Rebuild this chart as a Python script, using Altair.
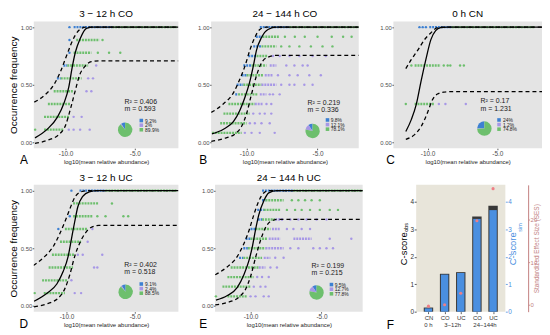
import altair as alt
import pandas as pd

FONT = "Liberation Sans"
BLUE, PURPLE, GREEN = "#3D80D2", "#A797E6", "#6DBF6D"
CATS = ["b", "p", "g"]
PANEL_BG = "#E4E4E4"
F_BG = "#E8E5DA"
BAR_DARK = "#383838"
BAR_BLUE = "#4A8FE0"
SES_COL = "#C27F7F"
PINK = "#EE7F86"

# ---------------- Panel A : 3-12 h CO ----------------
A_title = "3 − 12 h  CO"
A_xdom = [-12.3, -1.85]
A_band_y = [1.0, 1.0, 0.889, 0.778, 0.667, 0.667, 0.556, 0.556, 0.444, 0.333, 0.222, 0.111]
A_band_x0 = [-9.42, -6.63, -9.23, -9.42, -10.16, -9.88, -10.63, -10.35, -10.86, -11.28, -11.56, -11.56]
A_band_x1 = [-6.63, -1.98, -7.56, -8.14, -9.88, -8.37, -10.35, -8.84, -9.42, -9.65, -9.70, -10.12]
A_band_c = ["b", "g", "g", "g", "b", "g", "b", "g", "g", "g", "g", "g"]
A_pt_x = [-9.72, -9.72, -7.33, -9.72, -7.67, -6.86, -6.05, -7.79, -8.37, -8.02, -8.49, -8.14,
          -9.42, -8.84, -12.2, -9.77, -9.42, -8.95, -8.26]
A_pt_y = [1.0, 0.889, 0.889, 0.778, 0.778, 0.778, 0.778, 0.667, 0.556, 0.556, 0.444, 0.444,
          0.222, 0.222, 0.111, 0.111, 0.111, 0.111, 0.111]
A_pt_c = ["b", "b", "g", "b", "g", "g", "g", "p", "p", "p", "p", "p", "p", "p", "g", "p", "p", "p", "p"]
A_fit_x = [-12.21, -11.28, -10.59, -10.12, -9.77, -9.54, -9.30, -8.95, -8.49, -8.03, -1.85]
A_fit_y = [0.04, 0.12, 0.22, 0.34, 0.48, 0.64, 0.78, 0.90, 0.99, 1.0, 1.0]
A_up_x = [-12.26, -11.51, -10.8, -10.35, -10.0, -9.65, -9.3, -8.84, -8.5, -1.85]
A_up_y = [0.35, 0.41, 0.51, 0.62, 0.73, 0.84, 0.93, 0.99, 1.0, 1.0]
A_lo_x = [-12.21, -11.28, -10.47, -10.0, -9.65, -9.30, -9.0, -8.6, -8.14, -7.56, -1.85]
A_lo_y = [-0.008, 0.02, 0.07, 0.15, 0.29, 0.45, 0.58, 0.66, 0.70, 0.707, 0.707]
A_stats = ["R² = 0.406", "m = 0.593"]
A_pie = [9.2, 2.0, 89.9]
A_pie_lab = ["9.2%", "2%", "89.9%"]

# ---------------- Panel B : 24-144 h CO ----------------
B_title = "24 − 144 h  CO"
B_xdom = [-12.5, -2.1]
B_band_y = [1.0, 1.0, 0.917, 0.917, 0.833, 0.833, 0.75, 0.75, 0.667, 0.667, 0.667,
            0.583, 0.583, 0.583, 0.5, 0.5, 0.5, 0.417, 0.417, 0.417, 0.333, 0.333, 0.25, 0.167, 0.083]
B_band_x0 = [-9.07, -6.98, -9.35, -8.88, -9.53, -8.95, -9.88, -9.3, -10.23, -9.65, -8.37,
             -10.35, -10.0, -8.72, -10.7, -10.23, -8.95, -10.8, -10.6, -9.07, -11.28, -9.42, -11.63, -11.86, -12.44]
B_band_x1 = [-6.98, -2.1, -8.88, -7.67, -8.95, -7.9, -9.3, -8.49, -9.65, -8.6, -7.9,
             -10.0, -8.84, -8.14, -10.23, -8.95, -7.9, -10.6, -9.19, -8.6, -9.42, -8.84, -9.77, -10.0, -10.35]
B_band_c = ["b", "g", "b", "g", "b", "g", "b", "g", "b", "g", "p",
            "b", "g", "p", "b", "g", "p", "b", "g", "p", "g", "p", "g", "g", "g"]
B_pt_x = [-7.3, -6.6, -5.9, -5.0, -4.0, -3.2, -2.6,
          -7.56, -6.98, -6.28, -5.47, -4.65, -3.95,
          -8.14, -7.67, -6.98, -6.28, -5.35, -4.42,
          -7.2, -6.63, -6.05, -5.7,
          -7.79, -6.98, -6.4, -5.58, -4.77,
          -7.56, -6.98, -6.63, -5.93, -5.35,
          -8.37, -8.14, -7.67,
          -8.6, -8.26,
          -9.53, -9.07, -8.72, -8.26,
          -9.77, -9.42, -8.95, -8.37,
          -10.12, -9.65, -9.07, -8.02]
B_pt_y = [0.917] * 7 + [0.833] * 6 + [0.75] * 6 + [0.667] * 4 + [0.583] * 5 + [0.5] * 5 + \
         [0.417] * 3 + [0.333] * 2 + [0.25] * 4 + [0.167] * 4 + [0.083] * 4
B_pt_c = ["g"] * 13 + ["p"] * 37
B_fit_x = [-12.44, -11.63, -10.93, -10.47, -10.12, -9.77, -9.53, -9.3, -8.95, -8.49, -7.9, -2.1]
B_fit_y = [0.074, 0.115, 0.18, 0.28, 0.39, 0.53, 0.66, 0.80, 0.91, 0.98, 1.0, 1.0]
B_up_x = [-12.49, -11.63, -10.93, -10.47, -10.12, -9.77, -9.42, -9.07, -8.6, -2.1]
B_up_y = [0.26, 0.335, 0.43, 0.55, 0.66, 0.80, 0.91, 0.98, 1.0, 1.0]
B_lo_x = [-12.49, -11.63, -10.81, -10.35, -10.0, -9.65, -9.3, -8.95, -8.49, -7.9, -2.1]
B_lo_y = [0.01, 0.033, 0.074, 0.14, 0.25, 0.42, 0.58, 0.69, 0.74, 0.755, 0.755]
B_stats = ["R² = 0.219", "m = 0.336"]
B_pie = [9.8, 12.1, 78.1]
B_pie_lab = ["9.8%", "12.1%", "78.1%"]

# ---------------- Panel C : 0 h CN ----------------
C_title = "0 h  CN"
C_xdom = [-12.45, -1.8]
C_band_y = [1.0, 1.0, 0.667, 0.333]
C_band_x0 = [-9.88, -8.26, -10.93, -10.93]
C_band_x1 = [-8.26, -2.33, -9.07, -9.53]
C_band_c = ["b", "g", "g", "g"]
C_pt_x = [-10.58, -10.35, -10.12, -11.16, -8.84, -8.56, -8.37, -7.67, -7.4, -11.56, -9.19, -8.72, -7.26]
C_pt_y = [1.0, 1.0, 1.0, 0.667, 0.667, 0.667, 0.667, 0.667, 0.667, 0.333, 0.333, 0.333, 0.333]
C_pt_c = ["b", "b", "b", "g", "g", "g", "g", "g", "g", "g", "p", "p", "p"]
C_fit_x = [-11.56, -11.16, -10.81, -10.47, -10.12, -9.77, -9.42, -9.07, -8.6, -1.8]
C_fit_y = [0.095, 0.20, 0.33, 0.53, 0.72, 0.89, 0.97, 0.995, 1.0, 1.0]
C_up_x = [-11.56, -11.16, -10.7, -10.23, -9.77, -9.3, -9.0, -1.8]
C_up_y = [0.64, 0.72, 0.80, 0.89, 0.95, 0.995, 1.0, 1.0]
C_lo_x = [-11.56, -10.93, -10.47, -10.0, -9.65, -9.3, -8.84, -8.37, -1.8]
C_lo_y = [0.027, 0.068, 0.136, 0.26, 0.37, 0.42, 0.436, 0.44, 0.44]
C_stats = ["R² = 0.17", "m = 1.231"]
C_pie = [24.0, 1.2, 74.8]
C_pie_lab = ["24%", "1.2%", "74.8%"]

# ---------------- Panel D : 3-12 h UC ----------------
D_title = "3 − 12 h  UC"
D_xdom = [-12.4, -1.8]
D_band_y = [1.0, 1.0, 0.889, 0.778, 0.667, 0.556, 0.444, 0.333, 0.222, 0.111]
D_band_x0 = [-9.05, -7.14, -9.52, -9.52, -10.12, -10.48, -11.07, -11.31, -11.79, -11.67]
D_band_x1 = [-7.14, -1.9, -7.62, -8.1, -8.45, -8.93, -9.4, -9.52, -9.88, -10.12]
D_band_c = ["b", "g", "g", "g", "g", "g", "g", "g", "g", "g"]
D_pt_x = [-9.64, -6.67, -9.76, -7.74, -7.14, -5.83, -5.48, -10.6, -8.1, -8.45,
          -9.17, -8.81, -7.38, -7.98, -7.74, -9.64, -12.33, -9.4, -8.93]
D_pt_y = [1.0, 0.889, 0.778, 0.778, 0.778, 0.778, 0.778, 0.667, 0.667, 0.556,
          0.444, 0.444, 0.444, 0.333, 0.333, 0.222, 0.111, 0.111, 0.111]
D_pt_c = ["b", "g", "b", "g", "g", "g", "g", "b", "p", "p", "p", "p", "p", "p", "p", "p", "g", "p", "p"]
D_fit_x = [-12.38, -11.43, -10.71, -10.24, -9.88, -9.64, -9.4, -9.17, -8.81, -8.33, -7.74, -1.8]
D_fit_y = [0.04, 0.11, 0.19, 0.30, 0.43, 0.58, 0.73, 0.86, 0.95, 0.99, 1.0, 1.0]
D_up_x = [-12.43, -11.67, -10.95, -10.48, -10.12, -9.76, -9.4, -8.93, -8.45, -1.8]
D_up_y = [0.35, 0.42, 0.52, 0.63, 0.73, 0.84, 0.94, 0.99, 1.0, 1.0]
D_lo_x = [-12.38, -11.43, -10.6, -10.12, -9.76, -9.4, -9.05, -8.69, -8.21, -7.62, -1.8]
D_lo_y = [-0.008, 0.019, 0.068, 0.15, 0.27, 0.43, 0.54, 0.62, 0.68, 0.698, 0.698]
D_stats = ["R² = 0.402", "m = 0.518"]
D_pie = [9.1, 2.4, 88.5]
D_pie_lab = ["9.1%", "2.4%", "88.5%"]

# ---------------- Panel E : 24-144 h UC ----------------
E_title = "24 − 144 h  UC"
E_xdom = [-12.5, -2.1]
E_band_y = [1.0, 1.0, 0.917, 0.917, 0.833, 0.833, 0.75, 0.75, 0.75, 0.667, 0.667, 0.667,
            0.583, 0.583, 0.583, 0.583, 0.5, 0.5, 0.5, 0.417, 0.417, 0.417, 0.333, 0.333, 0.25, 0.167, 0.083]
E_band_x0 = [-9.19, -6.98, -9.19, -8.95, -9.53, -9.07, -9.49, -9.19, -8.26, -10.0, -9.65, -8.49,
             -10.35, -10.0, -8.72, -6.98, -10.51, -10.19, -8.95, -10.81, -10.51, -9.07, -11.4, -9.42,
             -11.63, -11.98, -11.63]
E_band_x1 = [-6.98, -2.1, -8.95, -7.67, -9.07, -7.9, -9.19, -8.26, -7.67, -9.65, -8.6, -7.9,
             -10.0, -8.84, -7.9, -5.7, -10.19, -8.95, -7.67, -10.51, -9.19, -8.6, -9.42, -8.95,
             -9.77, -10.0, -10.23]
E_band_c = ["b", "g", "b", "g", "b", "g", "b", "g", "p", "b", "g", "p",
            "b", "g", "p", "p", "b", "g", "p", "b", "g", "p", "g", "p", "g", "g", "g"]
E_pt_x = [-7.09, -6.63, -6.16, -5.7, -5.12,
          -7.44, -6.86, -6.4, -5.81, -5.12, -4.42, -3.84,
          -7.2, -6.63, -6.05, -5.35, -4.65,
          -7.44, -6.98, -6.4, -5.81,
          -4.42, -2.9,
          -7.2, -6.63, -5.58, -5.12, -4.65, -4.19,
          -8.26, -7.67,
          -8.6, -8.14,
          -9.53, -9.19, -8.72,
          -9.77, -9.3, -8.95,
          -12.44, -10.0, -9.65, -9.07, -8.72]
E_pt_y = [0.917] * 5 + [0.833] * 7 + [0.75] * 5 + [0.667] * 4 + [0.583] * 2 + [0.5] * 6 + \
         [0.417] * 2 + [0.333] * 2 + [0.25] * 3 + [0.167] * 3 + [0.083] * 5
E_pt_c = ["g"] * 12 + ["p"] * 27 + ["g", "p", "p", "p", "p"]
E_fit_x = [-12.44, -11.63, -10.93, -10.47, -10.12, -9.88, -9.65, -9.42, -9.07, -8.72, -8.14, -2.1]
E_fit_y = [0.05, 0.09, 0.16, 0.27, 0.39, 0.51, 0.66, 0.79, 0.91, 0.98, 1.0, 1.0]
E_up_x = [-12.49, -11.63, -10.93, -10.47, -10.12, -9.77, -9.42, -9.07, -8.72, -2.1]
E_up_y = [0.27, 0.34, 0.43, 0.54, 0.65, 0.79, 0.91, 0.98, 1.0, 1.0]
E_lo_x = [-12.49, -11.63, -10.81, -10.35, -10.0, -9.65, -9.3, -8.95, -8.6, -8.02, -2.1]
E_lo_y = [0.008, 0.03, 0.077, 0.145, 0.254, 0.418, 0.568, 0.678, 0.732, 0.751, 0.751]
E_stats = ["R² = 0.199", "m = 0.215"]
E_pie = [9.5, 12.7, 77.8]
E_pie_lab = ["9.5%", "12.7%", "77.8%"]

# ---------------- Panel F : C-score bars ----------------
F_cat = ["CN_0", "CO_3", "UC_3", "CO_24", "UC_24"]
F_obs = [0.15, 1.38, 1.44, 3.47, 3.86]
F_sim = [0.12, 1.35, 1.41, 3.38, 3.70]
F_ses = [-0.4, -0.05, 2.65, 19.8, 27.4]
F_grp_first = ["CN_0", "CO_3", "CO_24"]
F_grp_lab = ["0 h", "3−12h", "24−144h"]

PIE_ORDER = [2, 1, 0]

W_A, W_B, W_C, W_F = 146, 149, 150, 90
H = 128


def scatter_panel(title, xdom, by, bx0, bx1, bc, px, py, pc, fx, fy, ux, uy, lx, ly,
                  stats, pie, pie_lab, pos, letter, let_dx, width, ytitle):
    xs = alt.Scale(domain=xdom, nice=False, zero=False)
    ys = alt.Scale(domain=[-0.05, 1.05], nice=False, zero=False)
    col = alt.Color("c:N", scale=alt.Scale(domain=CATS, range=[BLUE, PURPLE, GREEN]), legend=None)
    xax = alt.Axis(values=[-10, -5], labelExpr="'-' + format(abs(datum.value), '.1f')",
                   title="log10(mean relative abundance)", labelFontSize=6.5, titleFontSize=6,
                   titlePadding=1.5, titleColor="#222222")
    if ytitle:
        yax = alt.Axis(values=[0, 0.25, 0.5, 0.75, 1.0], format=".2f", labelFontSize=6,
                       title="Occurrence frequency", titleFontSize=10, titlePadding=2)
    else:
        yax = alt.Axis(values=[0, 0.25, 0.5, 0.75, 1.0], format=".2f", labelFontSize=6, title=None)

    bands = alt.Chart(pd.DataFrame({"x": bx0, "x2": bx1, "y": by, "c": bc})).mark_rule(
        strokeWidth=2.4, strokeDash=[2, 0.9]).encode(
        x=alt.X("x:Q", scale=xs, axis=xax), x2="x2:Q",
        y=alt.Y("y:Q", scale=ys, axis=yax), color=col)
    pts = alt.Chart(pd.DataFrame({"x": px, "y": py, "c": pc})).mark_circle(
        size=6, opacity=1).encode(x="x:Q", y="y:Q", color=col)

    def curve(xv, yv, dash):
        kw = dict(color="black", strokeWidth=1.3, interpolate="monotone", clip=True)
        if dash:
            kw["strokeDash"] = [4, 3]
        return alt.Chart(pd.DataFrame({"x": xv, "y": yv})).mark_line(**kw).encode(x="x:Q", y="y:Q")

    txt = alt.Chart(pd.DataFrame({"x": [pos["tx"]] * 2, "y": pos["ty"], "t": stats})).mark_text(
        align="left", baseline="middle", fontSize=7, font=FONT, color="#1a1a1a").encode(
        x="x:Q", y="y:Q", text="t:N")
    pie_df = pd.DataFrame({"x": [pos["px"]] * 3, "y": [pos["py"]] * 3, "v": pie, "c": CATS, "o": PIE_ORDER})
    pie_ch = alt.Chart(pie_df).mark_arc(radius=7.3).encode(
        x="x:Q", y="y:Q", theta=alt.Theta("v:Q", stack=True), color=col, order=alt.Order("o:Q"))
    sq = alt.Chart(pd.DataFrame({"x": [pos["sx"]] * 3, "y": pos["sy"], "c": CATS})).mark_square(
        size=13, opacity=1).encode(x="x:Q", y="y:Q", color=col)
    lab = alt.Chart(pd.DataFrame({"x": [pos["lx"]] * 3, "y": pos["sy"], "t": pie_lab})).mark_text(
        align="left", baseline="middle", fontSize=5, font=FONT, color="#1a1a1a").encode(
        x="x:Q", y="y:Q", text="t:N")
    let = alt.Chart(pd.DataFrame({"t": [letter]})).mark_text(
        fontSize=12, font=FONT, align="center", baseline="middle", color="black").encode(
        x=alt.value(let_dx), y=alt.value(H + 12), text="t:N")

    return alt.layer(bands, pts, curve(fx, fy, False), curve(ux, uy, True), curve(lx, ly, True),
                     txt, pie_ch, sq, lab, let).properties(
        width=width, height=H,
        title=alt.TitleParams(title, fontSize=10, font=FONT, fontWeight="normal", frame="group",
                              anchor="middle", offset=2, color="black"),
        view=alt.ViewBackground(fill=PANEL_BG, strokeWidth=0))


pA = scatter_panel(A_title, A_xdom, A_band_y, A_band_x0, A_band_x1, A_band_c, A_pt_x, A_pt_y, A_pt_c,
                   A_fit_x, A_fit_y, A_up_x, A_up_y, A_lo_x, A_lo_y, A_stats, A_pie, A_pie_lab,
                   dict(tx=-5.74, ty=[0.352, 0.29], px=-5.7, py=0.11, sx=-4.53, sy=[0.19, 0.15, 0.11], lx=-4.26),
                   "A", -10, W_A, True)
pB = scatter_panel(B_title, B_xdom, B_band_y, B_band_x0, B_band_x1, B_band_c, B_pt_x, B_pt_y, B_pt_c,
                   B_fit_x, B_fit_y, B_up_x, B_up_y, B_lo_x, B_lo_y, B_stats, B_pie, B_pie_lab,
                   dict(tx=-5.7, ty=[0.345, 0.283], px=-5.35, py=0.10, sx=-4.3, sy=[0.195, 0.155, 0.115], lx=-4.07),
                   "B", -8, W_B, False)
pC = scatter_panel(C_title, C_xdom, C_band_y, C_band_x0, C_band_x1, C_band_c, C_pt_x, C_pt_y, C_pt_c,
                   C_fit_x, C_fit_y, C_up_x, C_up_y, C_lo_x, C_lo_y, C_stats, C_pie, C_pie_lab,
                   dict(tx=-6.2, ty=[0.355, 0.293], px=-5.93, py=0.12, sx=-4.88, sy=[0.195, 0.155, 0.115], lx=-4.6),
                   "C", -3, W_C, False)
pD = scatter_panel(D_title, D_xdom, D_band_y, D_band_x0, D_band_x1, D_band_c, D_pt_x, D_pt_y, D_pt_c,
                   D_fit_x, D_fit_y, D_up_x, D_up_y, D_lo_x, D_lo_y, D_stats, D_pie, D_pie_lab,
                   dict(tx=-5.76, ty=[0.352, 0.29], px=-5.67, py=0.122, sx=-4.52, sy=[0.19, 0.15, 0.11], lx=-4.24),
                   "D", -10, W_A, True)
pE = scatter_panel(E_title, E_xdom, E_band_y, E_band_x0, E_band_x1, E_band_c, E_pt_x, E_pt_y, E_pt_c,
                   E_fit_x, E_fit_y, E_up_x, E_up_y, E_lo_x, E_lo_y, E_stats, E_pie, E_pie_lab,
                   dict(tx=-5.7, ty=[0.345, 0.283], px=-5.35, py=0.117, sx=-4.3, sy=[0.185, 0.145, 0.105], lx=-4.07),
                   "E", -12, W_B, False)

# ---- Panel F ----
F_PAD = 0.76
F_step = W_F / (len(F_cat) - 1 + 2 * F_PAD)
fdf = pd.DataFrame({"cat": F_cat, "obs": F_obs, "sim": F_sim, "ses": F_ses})
fx = alt.X("cat:N", scale=alt.Scale(type="point", domain=F_cat, padding=F_PAD),
           axis=alt.Axis(labelExpr="split(datum.value, '_')[0]", title=None, labelFontSize=6,
                         labelColor="#333333", labelAngle=0, tickSize=2, labelPadding=0.5))
cs = alt.Scale(domain=[0, 4.62], nice=False, zero=True)
obs_bar = alt.Chart(fdf).mark_bar(size=9.5, color=BAR_DARK).encode(
    x=fx, y=alt.Y("obs:Q", scale=cs, axis=alt.Axis(orient="left", values=[0, 1, 2, 3, 4], format="d",
                                                    title="C-score", titleFontSize=9.5, titlePadding=2,
                                                    labelFontSize=6.5, labelColor="#333333", tickSize=2)))
sim_bar = alt.Chart(fdf).mark_bar(size=7.5, color=BAR_BLUE).encode(
    x="cat:N", y=alt.Y("sim:Q", scale=cs, axis=alt.Axis(orient="right", values=[0, 1, 2, 3, 4], format="d",
                                                         title="C-score", titleFontSize=9.5, titlePadding=6,
                                                         titleAngle=270, titleColor=BAR_BLUE,
                                                         labelColor=BAR_BLUE, tickColor=BAR_BLUE,
                                                         labelFontSize=6.5, tickSize=2)))
ses_pt = alt.Chart(fdf).mark_circle(size=10, color=PINK, opacity=1).encode(
    x="cat:N", y=alt.Y("ses:Q", scale=alt.Scale(domain=[-1.7, 28.3], nice=False, zero=False),
                       axis=alt.Axis(orient="right", offset=23, values=[0, 10, 20], format="d",
                                     title="Standardized Effect Size (SES)", titleFontSize=6.5,
                                     titleAngle=270, titlePadding=3, titleColor=SES_COL,
                                     labelColor=SES_COL, tickColor=SES_COL, labelFontSize=6,
                                     domain=True, domainColor=SES_COL, domainWidth=1, tickSize=1.5)))
grp1 = alt.Chart(pd.DataFrame({"cat": F_grp_first[:1], "t": F_grp_lab[:1]})).mark_text(
    fontSize=6, font=FONT, color="#333333", baseline="middle").encode(
    x="cat:N", y=alt.value(H + 13.5), text="t:N")
grp2 = alt.Chart(pd.DataFrame({"cat": F_grp_first[1:], "t": F_grp_lab[1:]})).mark_text(
    fontSize=6, font=FONT, color="#333333", baseline="middle", dx=F_step / 2).encode(
    x="cat:N", y=alt.value(H + 13.5), text="t:N")
sub_obs = alt.Chart(pd.DataFrame({"t": ["obs"]})).mark_text(
    fontSize=5.5, font=FONT, angle=270, color="black").encode(
    x=alt.value(-10.5), y=alt.value(H / 2 - 21), text="t:N")
sub_sim = alt.Chart(pd.DataFrame({"t": ["sim"]})).mark_text(
    fontSize=5.5, font=FONT, angle=270, color=BAR_BLUE).encode(
    x=alt.value(W_F + 15), y=alt.value(H / 2 - 21), text="t:N")
letF = alt.Chart(pd.DataFrame({"t": ["F"]})).mark_text(
    fontSize=12, font=FONT, align="center", baseline="middle", color="black").encode(
    x=alt.value(-26), y=alt.value(H + 13), text="t:N")
pF = alt.layer(obs_bar, sim_bar, ses_pt, grp1, grp2, sub_obs, sub_sim, letF).resolve_scale(
    y="independent").properties(width=W_F, height=H, view=alt.ViewBackground(fill=F_BG, strokeWidth=0))

row1 = alt.hconcat(pA, pB, pC, spacing=19)
row2 = alt.hconcat(alt.hconcat(pD, pE, spacing=20), pF, spacing=22)
chart = alt.vconcat(row1, row2, spacing=7).properties(padding=0).configure(
    font=FONT).configure_view(strokeWidth=0).configure_axis(
    grid=False, domain=False, tickColor="#333333", tickWidth=0.8, tickSize=1.5, labelPadding=0.5,
    labelColor="#4D4D4D", labelFont=FONT, titleFont=FONT, titleFontWeight="normal", titleColor="black")

chart.save("out.html", embed_options={"renderer": "svg", "actions": False})
